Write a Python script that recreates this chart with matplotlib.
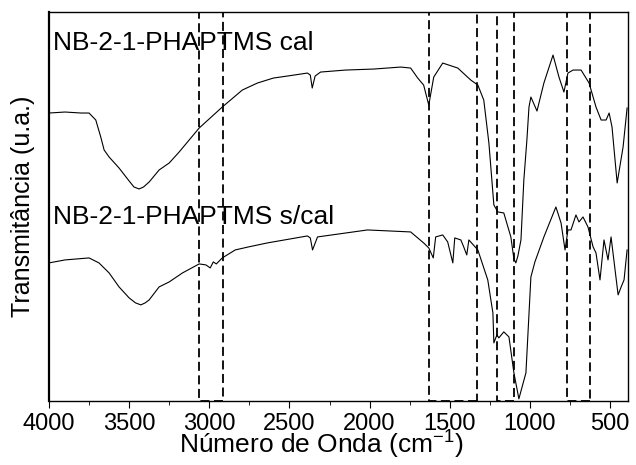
import matplotlib.pyplot as plt
from matplotlib.patches import Rectangle

plt.rcParams['font.family'] = ['Liberation Sans', 'DejaVu Sans']
plt.rcParams['mathtext.fontset'] = 'custom'
plt.rcParams['mathtext.rm'] = 'Liberation Sans'

# NB-2-1-PHAPTMS cal (wavenumber, transmittance a.u.)
wn_cal = [4000, 3900, 3800, 3750, 3708, 3677, 3656, 3625, 3563, 3500, 3470, 3438,
          3410, 3375, 3313, 3250, 3188, 3063, 2919, 2794, 2700, 2600, 2513, 2388,
          2370, 2358, 2340, 2306, 2150, 1975, 1806, 1744, 1700, 1663, 1631, 1600,
          1544, 1450, 1369, 1325, 1288, 1256, 1225, 1200, 1163, 1119, 1100, 1088,
          1075, 1056, 1038, 1019, 1006, 994, 956, 913, 856, 819, 788, 763, 731,
          681, 631, 588, 556, 525, 506, 488, 456, 419, 394]
t_cal = [288, 289, 288, 288, 281, 264, 251, 244, 233, 220, 214, 212,
         214, 219, 231, 238, 249, 273, 294, 311, 318, 323, 325, 328,
         326, 313, 325, 329, 331, 332, 334, 333, 323, 316, 296, 324,
         338, 333, 321, 316, 301, 258, 196, 189, 188, 164, 142, 138,
         145, 161, 221, 261, 294, 304, 290, 318, 346, 324, 309, 328, 331,
         331, 318, 294, 281, 281, 288, 274, 218, 254, 293]

# NB-2-1-PHAPTMS s/cal
wn_scal = [4000, 3900, 3750, 3688, 3625, 3563, 3500, 3460, 3427, 3400, 3375, 3313,
           3250, 3167, 3063, 3021, 2994, 2975, 2956, 2919, 2838, 2756, 2638, 2388,
           2370, 2356, 2325, 2013, 1744, 1663, 1631, 1603, 1588, 1544, 1513, 1481,
           1469, 1431, 1413, 1394, 1381, 1325, 1263, 1231, 1225, 1206, 1194, 1163,
           1131, 1100, 1069, 1025, 994, 969, 913, 888, 838, 806, 781, 763, 744,
           713, 694, 669, 638, 606, 588, 563, 538, 513, 494, 450, 431, 413, 394]
t_scal = [138, 141, 143, 138, 128, 114, 103, 98, 96, 98, 101, 114,
          119, 128, 137, 136, 133, 139, 137, 143, 151, 154, 158, 165,
          163, 151, 164, 171, 169, 158, 153, 143, 164, 166, 159, 138,
          163, 161, 154, 146, 161, 151, 121, 88, 58, 66, 63, 69,
          64, 28, 2, 28, 124, 139, 164, 174, 194, 178, 151, 171, 171,
          186, 179, 184, 174, 154, 148, 121, 161, 141, 164, 106, 114, 121, 151]

# dashed regions (cm-1)
regions = [(3063, 2915), (1629, 1331), (1206, 1098), (771, 627)]

labels = ["NB-2-1-PHAPTMS cal", "NB-2-1-PHAPTMS s/cal"]

fig = plt.figure(figsize=(6.36, 4.65), dpi=100)
ax = fig.add_axes([0.077, 0.138, 0.910, 0.836])

ax.plot(wn_cal, t_cal, color='black', lw=0.8)
ax.plot(wn_scal, t_scal, color='black', lw=0.8)

for a, b in regions:
    r = Rectangle((b, 0), a - b, 1, transform=ax.get_xaxis_transform(),
                  fill=False, ls=(0, (5, 2.5)), lw=1.3, ec='black')
    ax.add_patch(r)

ax.text(0.007, 0.92, labels[0], transform=ax.transAxes, fontsize=19,
        ha='left', va='center')
ax.text(0.007, 0.473, labels[1], transform=ax.transAxes, fontsize=19,
        ha='left', va='center')

ax.set_xlim(4000, 390)
ax.set_ylim(0, 389)
ax.set_xticks([4000, 3500, 3000, 2500, 2000, 1500, 1000, 500])
ax.set_xticks(range(3750, 400, -500), minor=True)
ax.set_yticks([])
ax.tick_params(axis='x', which='major', labelsize=17, direction='out',
               length=5, pad=4)
ax.tick_params(axis='x', which='minor', direction='out', length=3)
for s in ax.spines.values():
    s.set_linewidth(1.0)
ax.spines['left'].set_linewidth(1.6)

fig.text(0.506, 0.026, "Número de Onda (cm$^{-1}$)", fontsize=19,
         ha='center', va='baseline')
ax.set_ylabel("Transmitância (u.a.)", fontsize=18, labelpad=10)

fig.savefig("out.png", dpi=100)
